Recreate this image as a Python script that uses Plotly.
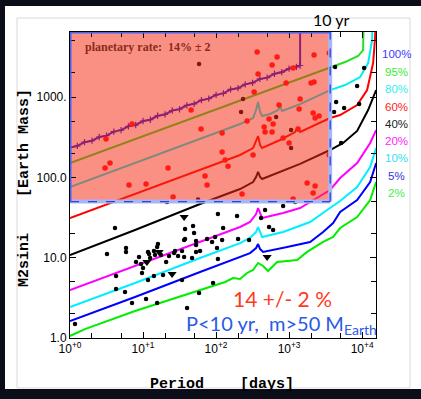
import math
import plotly.graph_objects as go

# ---------------- data (period in days, M2 sin i in Earth masses) ----------------
P_100 = [1, 1.26, 1.58, 2.0, 2.51, 3.16, 3.98, 5.01, 6.31, 7.94, 10, 12.6, 15.8, 20, 25.1, 31.6,
         39.8, 50.1, 63.1, 79.4, 100, 126, 158, 200, 251, 316, 398, 501, 631, 794, 1000, 1259, 1415, 1415]
M_100 = [236, 246, 274, 286, 318, 331, 371, 387, 432, 449, 503, 522, 585, 607, 680, 705,
         790, 822, 915, 955, 1065, 1110, 1245, 1290, 1440, 1505, 1680, 1745, 1950, 2040, 2265, 2380, 2470, 20000]
P_95 = [1, 7.77, 60.4, 469, 3646, 5848, 8810, 10320, 10650]
M_95 = [151, 300, 597, 1188, 2364, 2729, 3243, 3848, 20000]
P_80 = [1, 7.77, 60.4, 213, 321, 353, 376, 401, 427, 549, 707, 753, 802, 1415, 3646, 5848, 9395, 12080, 13710, 14150]
M_80 = [75.8, 151, 300, 461, 548, 689, 867, 651, 580, 615, 689, 773, 670, 818, 1222, 1412, 1775, 2651, 5127, 20000]
P_60 = [1, 7.77, 60.4, 213, 321, 353, 376, 401, 427, 753, 1208, 1288, 1415, 3646, 5000, 8545, 11700, 14150, 15070, 15550]
M_60 = [31.2, 62.1, 123, 190, 232, 292, 327, 253, 232, 292, 367, 411, 367, 548, 597, 796, 1222, 2651, 5585, 20000]
P_40 = [1, 7.77, 60.4, 213, 321, 353, 376, 401, 427, 1415, 3646, 5495, 8545, 12080, 15550]
M_40 = [10.8, 22.1, 46.6, 71.6, 87.5, 101, 117, 101, 95.3, 147, 219, 268, 378, 689, 1222]
P_20 = [1, 7.77, 60.4, 213, 292, 353, 376, 401, 427, 828, 1415, 2660, 3646, 5000, 8545, 12880, 15550]
M_20 = [3.96, 7.88, 15.7, 24.1, 27.8, 35.0, 41.5, 35.0, 31.2, 36.0, 41.5, 58.6, 69.6, 98.1, 151, 268, 388]
P_10 = [1, 7.77, 60.4, 213, 292, 353, 376, 401, 427, 828, 1940, 3316, 5000, 8545, 12880, 15550]
M_10 = [2.43, 4.84, 9.91, 15.2, 17.6, 20.9, 24.1, 20.9, 18.1, 20.9, 27.8, 39.2, 50.7, 75.8, 134, 232]
P_5 = [1, 7.77, 60.4, 213, 292, 353, 376, 401, 440, 939, 1940, 2923, 4008, 5000, 8545, 12880, 15550]
M_5 = [1.63, 3.24, 6.63, 10.2, 11.4, 13.2, 14.8, 12.8, 11.8, 13.6, 15.7, 20.9, 27.0, 37.0, 52.2, 87.5, 151]
P_2 = [1, 1.60, 7.77, 60.4, 133, 171, 213, 266, 321, 376, 440, 516, 685, 1288, 1765, 2923, 4008, 5000, 8545, 12880, 15550]
M_2 = [1.06, 1.29, 2.17, 3.96, 4.98, 5.58, 5.43, 6.45, 7.03, 8.59, 7.88, 6.82, 8.83, 9.35, 11.8, 15.7, 18.1, 23.4, 32.1, 52.2, 87.5]

# detected planets (black = below the cut, drawn under the shaded box)
BLACK_P = [58.5, 56.6, 234, 220, 664, 1065, 1065,
           4266, 10650, 8545, 4404, 5668, 4130, 9100, 5157,
           21.3, 828, 1208, 469, 106, 194, 413, 125, 532, 604, 75.3, 96.9, 88.2, 121, 200, 283,
           103, 60.4, 106, 91.0, 4.13, 3.21, 5.85, 5.85, 4.27, 4.27, 5.67, 7.07, 11.0, 15.6, 40.1,
           1.17, 58.5, 8.02, 8.81, 9.39, 10.0, 9.69, 11.7, 12.1, 12.5, 14.1, 14.6, 15.6, 16.0, 17.6,
           11.7, 14.1, 18.8, 20.7, 22.7, 26.6, 27.4, 30.2, 34.2, 36.5, 37.6, 36.5, 37.6, 48.4, 50.0,
           53.2, 53.2, 53.2, 46.9, 34.2]
BLACK_M = [2576, 53, 945, 650, 564, 388, 232,
           2365, 2296, 1371, 867, 730, 650, 818, 268,
           49.3, 44.0, 49.3, 39.2, 35.0, 33.0, 31.2, 23.4, 24.1, 22.1, 17.1, 18.1, 15.7, 16.6, 17.1, 16.6,
           13.2, 12.1, 9.62, 4.84, 23.4, 11.1, 13.2, 11.8, 5.91, 4.07, 3.74, 2.73, 3.06, 2.73, 2.36,
           1.49, 3.63, 8.83, 10.2, 8.34, 7.44, 6.44, 11.8, 11.1, 9.91, 12.1, 10.8, 13.6, 14.8, 10.8,
           5.27, 5.91, 6.08, 8.83, 10.5, 11.4, 12.1, 10.5, 12.1, 10.2, 22.7, 16.6, 17.1, 24.8, 20.3,
           16.1, 14.4, 11.8, 9.91, 5.27]
TRI_P = [11.3, 16.6, 25.0, 36.5, 500]
TRI_M = [8.83, 11.8, 6.26, 32.1, 10.2]
RED_P = [7.07, 3.11, 45.5, 62.3, 3.02, 3.53, 22.0, 6.43, 11.0, 25.8, 365, 685, 2198, 585, 1135, 376,
         910, 2000, 2198, 332, 1415, 729, 1371, 266, 532, 2133, 2270, 2576, 455, 604, 469, 585, 1327,
         121, 828, 1000, 121, 321, 133, 146, 70.6, 227, 75.3, 1765, 2270, 2133, 3550, 3550, 1135]
RED_M = [461, 300, 689, 400, 131, 151, 131, 80.3, 82.6, 56.9, 3631, 3148, 3334, 2502, 2296, 1933,
         1493, 1493, 1538, 1154, 945, 795, 709, 503, 532, 632, 548, 580, 424, 461, 367, 367, 400,
         357, 309, 268, 207, 190, 164, 138, 104, 62.1, 80.3, 85.1, 78.0, 63.8, 3532, 190, 53.7]

P_LIMIT = 3652.5      # 10 yr
M_LIMIT = 50.0        # Earth masses
LEVELS = ["100%", "95%", "80%", "60%", "40%", "20%", "10%", "5%", "2%"]
X_MAJOR = [1, 10, 100, 1000, 10000]
X_MINOR = [2, 5, 20, 50, 200, 500, 2000, 5000]
Y_MAJOR = [1, 10, 100, 1000]
Y_MINOR = [2, 5, 20, 50, 200, 500, 2000, 5000]
Y_LABELS = ["1.0", "10.0", "100.0", "1000."]

# ---------------- layout geometry ----------------
W, H = 421, 399
L, R, T, B = 70, 45, 32, 61
PW, PH = W - L - R, H - T - B
XR = [0, 4.19]
YR = [0, 3.81]
Y_TOP = 10 ** YR[1]

def fx(xpx):
    return (xpx - L) / PW

def fy(ypx):
    return (T + PH - ypx) / PH

fig = go.Figure()

curves = [
    (P_100, M_100, "#1a10d8", "lines+markers"),
    (P_95, M_95, "#22e022", "lines"),
    (P_80, M_80, "#00eeee", "lines"),
    (P_60, M_60, "#ff0000", "lines"),
    (P_40, M_40, "#000000", "lines"),
    (P_20, M_20, "#ff00ff", "lines"),
    (P_10, M_10, "#00eeff", "lines"),
    (P_5, M_5, "#0000ff", "lines"),
    (P_2, M_2, "#00ee00", "lines"),
]
for (p, m, c, mode), name in zip(curves, LEVELS):
    fig.add_trace(go.Scatter(
        x=p, y=m, mode=mode, name=name,
        line=dict(color=c, width=2),
        marker=dict(symbol="cross-thin", size=4.5, line=dict(color=c, width=1.2)),
        showlegend=False, hoverinfo="skip"))

fig.add_trace(go.Scatter(x=BLACK_P, y=BLACK_M, mode="markers",
                         marker=dict(color="black", size=4.5), showlegend=False))
fig.add_trace(go.Scatter(x=TRI_P, y=TRI_M, mode="markers",
                         marker=dict(color="black", size=8, symbol="triangle-down"), showlegend=False))

# shaded region P < 10 yr, m > 50 M_Earth
fig.add_trace(go.Scatter(
    x=[1, P_LIMIT, P_LIMIT, 1, 1], y=[M_LIMIT, M_LIMIT, 1e5, 1e5, M_LIMIT],
    mode="lines", fill="toself", fillcolor="rgba(245,45,20,0.53)",
    line=dict(width=0), showlegend=False, hoverinfo="skip"))

fig.add_trace(go.Scatter(x=RED_P, y=RED_M, mode="markers",
                         marker=dict(color="#ff1a14", size=5.5), showlegend=False))

shapes = [
    # slide background panel
    dict(type="rect", xref="paper", yref="paper", x0=fx(5), x1=fx(421), y0=fy(389), y1=fy(6),
         fillcolor="white", line=dict(width=0), layer="below"),
    dict(type="rect", xref="paper", yref="paper", x0=fx(17), x1=fx(410), y0=fy(388), y1=fy(18),
         fillcolor="rgba(0,0,0,0)", line=dict(color="#d9d9d9", width=1), layer="below"),
    # box edges
    dict(type="line", xref="x", yref="y", x0=P_LIMIT, x1=P_LIMIT, y0=M_LIMIT, y1=Y_TOP,
         line=dict(color="#a9b6f2", width=4), layer="above"),
    dict(type="line", xref="x", yref="y", x0=1, x1=P_LIMIT, y0=M_LIMIT, y1=M_LIMIT,
         line=dict(color="#a9b6f2", width=4), layer="above"),
    dict(type="line", xref="x", yref="y", x0=P_LIMIT, x1=P_LIMIT, y0=M_LIMIT, y1=Y_TOP,
         line=dict(color="#2a44dd", width=1.3, dash="dash"), layer="above"),
    dict(type="line", xref="x", yref="y", x0=1, x1=P_LIMIT, y0=M_LIMIT, y1=M_LIMIT,
         line=dict(color="#2a44dd", width=1.3, dash="dash"), layer="above"),
    dict(type="line", xref="x", yref="y", x0=1, x1=1, y0=M_LIMIT, y1=Y_TOP,
         line=dict(color="#4a62ee", width=3), layer="above"),
    dict(type="line", xref="x", yref="y", x0=1, x1=P_LIMIT, y0=Y_TOP, y1=Y_TOP,
         line=dict(color="#4a62ee", width=3), layer="above"),
]

ann = []
def text(x, y, s, size, color, family="Lato", xanchor="center", angle=0):
    ann.append(dict(xref="paper", yref="paper", x=fx(x), y=fy(y), text=s, showarrow=False,
                    xanchor=xanchor, yanchor="middle", textangle=angle,
                    font=dict(size=size, color=color, family=family)))

level_colors = ["#3b3bff", "#33ee33", "#33eeee", "#ff2222", "#222222", "#ff22ff", "#33e0ee", "#3333dd", "#44ee44"]
level_y = [54, 72, 89, 107, 124, 141, 158, 176, 193]
for lab, col, yy in zip(LEVELS, level_colors, level_y):
    text(396, yy, lab, 11.5, col, "Liberation Sans")

text(83, 47, "<b>planetary rate:  14% ± 2</b>", 12, "#8a2a1c", "Liberation Serif", xanchor="left")
text(282, 298, "14 +/- 2 %", 21, "#ff3a1e")
text(281, 324, "P&lt;10 yr,  m&gt;50 M<sub>Earth</sub>", 20, "#2a5ae8")
text(331, 20, "10 yr", 16, "black")
text(222, 385, "<b>Period\u00a0\u00a0\u00a0\u00a0[days]</b>", 15, "black", "Liberation Mono")
text(24, 188, "<b>M2sini\u00a0\u00a0\u00a0\u00a0[Earth Mass]</b>", 15, "black", "Liberation Mono", angle=-90)

x_text = ["10<sup>+%d</sup>" % round(math.log10(v)) for v in X_MAJOR]

axis_common = dict(type="log", showgrid=False, zeroline=False, showline=True, linecolor="black",
                   linewidth=1, mirror="ticks", ticks="inside", ticklen=6, tickcolor="black",
                   tickwidth=1, automargin=False,
                   tickfont=dict(family="Liberation Sans", size=12, color="black"))

fig.update_layout(
    width=W, height=H, margin=dict(l=L, r=R, t=T, b=B),
    paper_bgcolor="#0b0d18", plot_bgcolor="white",
    xaxis=dict(range=XR, tickvals=X_MAJOR, ticktext=x_text,
               minor=dict(tickvals=X_MINOR, ticks="inside", ticklen=5, tickcolor="black", showgrid=False),
               **axis_common),
    yaxis=dict(range=YR, tickvals=Y_MAJOR, ticktext=Y_LABELS,
               minor=dict(tickvals=Y_MINOR, ticks="inside", ticklen=5, tickcolor="black", showgrid=False),
               **axis_common),
    shapes=shapes, annotations=ann, showlegend=False,
)

fig.write_html("out.html")
